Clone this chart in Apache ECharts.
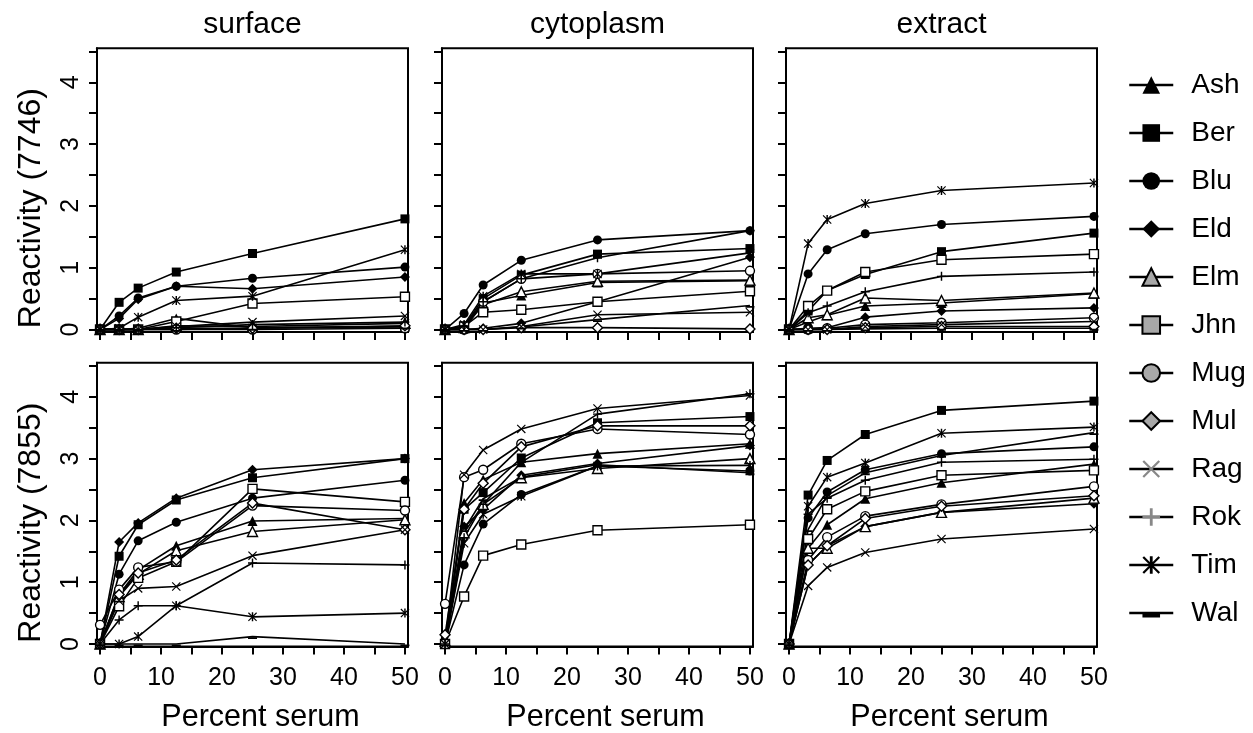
<!DOCTYPE html>
<html><head><meta charset="utf-8">
<script src="https://cdn.jsdelivr.net/npm/echarts@6/dist/echarts.min.js"></script>
<style>html,body{margin:0;padding:0;background:#fff}#c{width:1253px;height:733px}</style>
</head><body><div id="c"></div>
<script>
// ---------------- data ----------------
const percentSerum = [0, 3.125, 6.25, 12.5, 25, 50];
const strains = ['Ash','Ber','Blu','Eld','Elm','Jhn','Mug','Mul','Rag','Rok','Tim','Wal'];
const locations = ['surface','cytoplasm','extract'];
const antibodies = ['7746','7855'];
const xTicks = [0,5,10,15,20,25,30,35,40,45,50];
const xTickLabels = [0,10,20,30,40,50];
const yTicks = [0,0.5,1,1.5,2,2.5,3,3.5,4,4.5];
const yTickLabels = [0,1,2,3,4];

// rows follow strains order: Ash Ber Blu Eld Elm Jhn Mug Mul Rag Rok Tim Wal
const surface7746 = [
  [0,0,0.02,0.18,0.03,0.05],
  [0,0.44,0.67,0.93,1.23,1.79],
  [0,0.22,0.51,0.70,0.83,1.01],
  [0,0.18,0.49,0.70,0.66,0.85],
  [0,0,0,0.06,0.05,0.10],
  [0,0,0,0.13,0.42,0.53],
  [0,0,0,0,0,0.02],
  [0,0,0,0.02,0.02,0.06],
  [0,0,0,0.05,0.12,0.22],
  [0,0,0,0.03,0.08,0.12],
  [0,0.02,0.20,0.47,0.54,1.29],
  [0,0,0,0,0.02,0.04]
];
const cytoplasm7746 = [
  [0,0.04,0.43,0.55,0.76,0.79],
  [0,0.05,0.50,0.88,1.22,1.31],
  [0,0.26,0.72,1.12,1.45,1.60],
  [0,0,0.02,0.10,0.45,1.17],
  [0,0.03,0.40,0.61,0.78,0.80],
  [0,0.05,0.28,0.32,0.45,0.62],
  [0,0,0.45,0.82,0.90,0.95],
  [0,0,0,0.03,0.03,0.01],
  [0,0,0,0.05,0.24,0.28],
  [0,0.05,0.45,0.82,1.16,1.60],
  [0,0.08,0.54,0.90,0.90,1.24],
  [0,0,0,0.04,0.16,0.39]
];
const extract7746 = [
  [0,0.12,0.23,0.38,0.43,0.58],
  [0,0.30,0.63,0.89,1.26,1.56],
  [0,0.90,1.29,1.55,1.70,1.83],
  [0,0.02,0.03,0.20,0.30,0.35],
  [0,0.19,0.24,0.51,0.47,0.59],
  [0,0.38,0.63,0.93,1.13,1.22],
  [0,0,0.02,0.08,0.11,0.19],
  [0,0,0,0.03,0.05,0.05],
  [0,0,0,0.05,0.08,0.13],
  [0,0.27,0.38,0.61,0.86,0.93],
  [0,1.39,1.78,2.04,2.25,2.37],
  [0,0,0,0.01,0.02,0.02]
];
const surface7855 = [
  [0,0.80,1.20,1.59,1.99,2.03],
  [0,1.42,1.93,2.33,2.69,3.00],
  [0,1.13,1.67,1.97,2.36,2.65],
  [0,1.65,1.96,2.36,2.82,3.00],
  [0,0.77,1.13,1.51,1.82,2.01],
  [0,0.61,1.07,1.33,2.51,2.30],
  [0.31,0.88,1.24,1.33,2.24,2.16],
  [0,0.80,1.15,1.36,2.28,1.85],
  [0,0.70,0.90,0.93,1.43,1.85],
  [0,0.39,0.62,0.62,1.31,1.28],
  [0,0,0.12,0.62,0.44,0.50],
  [0,0,0,0,0.12,0]
];
const cytoplasm7855 = [
  [0,2.28,2.66,2.94,3.08,3.24],
  [0,2.18,2.45,3.01,3.58,3.68],
  [0,1.28,1.94,2.42,2.88,2.80],
  [0,1.90,2.18,2.73,2.92,3.21],
  [0.05,1.80,2.26,2.69,2.84,3.00],
  [0,0.77,1.43,1.61,1.84,1.93],
  [0.65,2.70,2.82,3.24,3.48,3.39],
  [0.15,2.18,2.60,3.19,3.53,3.53],
  [0,2.74,3.14,3.48,3.81,4.02],
  [0,1.72,2.26,2.94,3.72,4.05],
  [0,1.63,2.10,2.39,2.88,2.89],
  [0,1.85,2.35,2.70,2.90,2.77]
];
const extract7855 = [
  [0,1.55,1.93,2.35,2.61,2.91],
  [0,2.41,2.97,3.39,3.78,3.93],
  [0,2.04,2.46,2.82,3.08,3.19],
  [0,1.28,1.59,1.90,2.13,2.27],
  [0,1.55,1.55,1.90,2.13,2.36],
  [0,1.70,2.18,2.47,2.73,2.81],
  [0,1.36,1.73,2.07,2.26,2.55],
  [0,1.28,1.59,2.03,2.23,2.40],
  [0,0.94,1.24,1.48,1.70,1.86],
  [0,2.10,2.36,2.65,2.94,2.99],
  [0,2.23,2.70,2.93,3.41,3.51],
  [0,1.85,2.40,2.77,3.05,3.42]
];
const panelData = [
  [surface7746, cytoplasm7746, extract7746],
  [surface7855, cytoplasm7855, extract7855]
];

// ---------------- styling ----------------
const FONT = '"Liberation Sans", Arial, Helvetica, sans-serif';
const corners = 'M0,0 L0.01,0 L0,0.01 Z M10,10 L9.99,10 L10,9.99 Z ';
const pathX = 'path://' + corners + 'M0.9,0 L0,0.9 L9.1,10 L10,9.1 Z M10,0.9 L9.1,0 L0,9.1 L0.9,10 Z';
const pathPlus = 'path://' + corners + 'M4.2,0 L5.8,0 L5.8,10 L4.2,10 Z M0,4.2 L10,4.2 L10,5.8 L0,5.8 Z';
const pathStar = 'path://' + corners + 'M0.9,0 L0,0.9 L9.1,10 L10,9.1 Z M10,0.9 L9.1,0 L0,9.1 L0.9,10 Z M4.2,0 L4.2,10 L5.8,10 L5.8,0 Z';
const pathDash = 'path://' + corners + 'M0,5.6 L10,5.6 L10,7.6 L0,7.6 Z';

const GRAY = '#a8a8a8';
const sym = {
  Ash: {symbol:'triangle', size:10, fill:'#000', open:false},
  Ber: {symbol:'rect', size:9, fill:'#000', open:false},
  Blu: {symbol:'circle', size:9, fill:'#000', open:false},
  Eld: {symbol:'diamond', size:10, fill:'#000', open:false},
  Elm: {symbol:'triangle', size:10, fill:'#fff', open:true},
  Jhn: {symbol:'rect', size:9, fill:'#fff', open:true},
  Mug: {symbol:'circle', size:9, fill:'#fff', open:true},
  Mul: {symbol:'diamond', size:10, fill:'#fff', open:true},
  Rag: {symbol:pathX, size:9, fill:'#000', open:false},
  Rok: {symbol:pathPlus, size:9, fill:'#000', open:false},
  Tim: {symbol:pathStar, size:9, fill:'#000', open:false},
  Wal: {symbol:pathDash, size:9, fill:'#000', open:false}
};

const colLeft = [97, 442, 786];
const rowTop = [48.3, 362.8];
const gW = 311, gH = 283.7;

const grids = [], xAxes = [], yAxes = [], series = [];
let idx = 0;
for (let r = 0; r < 2; r++) {
  for (let c = 0; c < 3; c++) {
    grids.push({left: colLeft[c], top: rowTop[r], width: gW, height: gH,
      show: true, borderColor: '#000', borderWidth: 2, backgroundColor: 'transparent', containLabel: false});
    xAxes.push({type:'value', gridIndex: idx, min: -0.5, max: 50.5,
      axisLine:{show:true, onZero:false, lineStyle:{color:'#000', width:2}},
      axisTick:{show:true, customValues: xTicks, length: 8, lineStyle:{color:'#000', width:2}},
      axisLabel:{show: r === 1, customValues: xTickLabels, fontSize: 25, lineHeight: 25, color:'#000', fontFamily: FONT, margin: 19},
      splitLine:{show:false}});
    yAxes.push({type:'value', gridIndex: idx, min: -0.04, max: 4.55,
      axisLine:{show:true, onZero:false, lineStyle:{color:'#000', width:2}},
      axisTick:{show:true, customValues: yTicks, length: 8, lineStyle:{color:'#000', width:2}},
      axisLabel:{show: c === 0, customValues: yTickLabels, rotate: 90, fontSize: 25, lineHeight: 25, color:'#000', fontFamily: FONT, margin: 13},
      splitLine:{show:false}});
    const vals = panelData[r][c];
    strains.forEach((name, s) => {
      const st = sym[name];
      series.push({
        type: 'line', name: name, xAxisIndex: idx, yAxisIndex: idx,
        data: percentSerum.map((x, i) => [x, vals[s][i]]),
        symbol: st.symbol, symbolSize: st.size, showAllSymbol: true,
        lineStyle: {color:'#000', width: 1.6},
        itemStyle: {color: st.fill, borderColor:'#000', borderWidth: st.open ? 1.4 : 0},
        emphasis: {disabled: true}, animation: false, z: 2
      });
    });
    idx++;
  }
}

const legendData = strains.map(name => {
  const st = sym[name];
  const o = {name: name};
  if (st.open) o.itemStyle = {color: GRAY, borderColor:'#000', borderWidth: 2};
  else if (name === 'Rag' || name === 'Rok') o.itemStyle = {color: '#888', borderWidth: 0};
  else o.itemStyle = {color: '#000', borderWidth: 0};
  return o;
});

const graphic = [];
locations.forEach((t, c) => {
  graphic.push({type:'text', x: colLeft[c] + gW/2, y: 24.5,
    style:{text: t, font: '30px ' + FONT, fill:'#000', textAlign:'center', textVerticalAlign:'middle'}});
  graphic.push({type:'text', x: colLeft[c] + gW/2 + 8, y: 718,
    style:{text: 'Percent serum', font: '30.5px ' + FONT, fill:'#000', textAlign:'center', textVerticalAlign:'middle'}});
});
antibodies.forEach((a, r) => {
  graphic.push({type:'text', x: 31, y: rowTop[r] + gH/2 + 18, rotation: Math.PI/2,
    style:{text: 'Reactivity (' + a + ')', font: '32px ' + FONT, fill:'#000', textAlign:'center', textVerticalAlign:'middle'}});
});

const chart = echarts.init(document.getElementById('c'), null, {renderer: 'canvas'});
chart.setOption({
  animation: false,
  backgroundColor: '#fff',
  grid: grids, xAxis: xAxes, yAxis: yAxes, series: series,
  legend: {
    data: legendData, orient: 'vertical', left: 1128, top: 71, padding: 0,
    itemWidth: 44, itemHeight: 22, itemGap: 20,
    selectedMode: false,
    lineStyle: {color:'#000', width: 2.5},
    textStyle: {fontSize: 28, lineHeight: 28, fontFamily: FONT, color:'#000', padding:[0,0,0,13]}
  },
  graphic: graphic
});
</script>
</body></html>
